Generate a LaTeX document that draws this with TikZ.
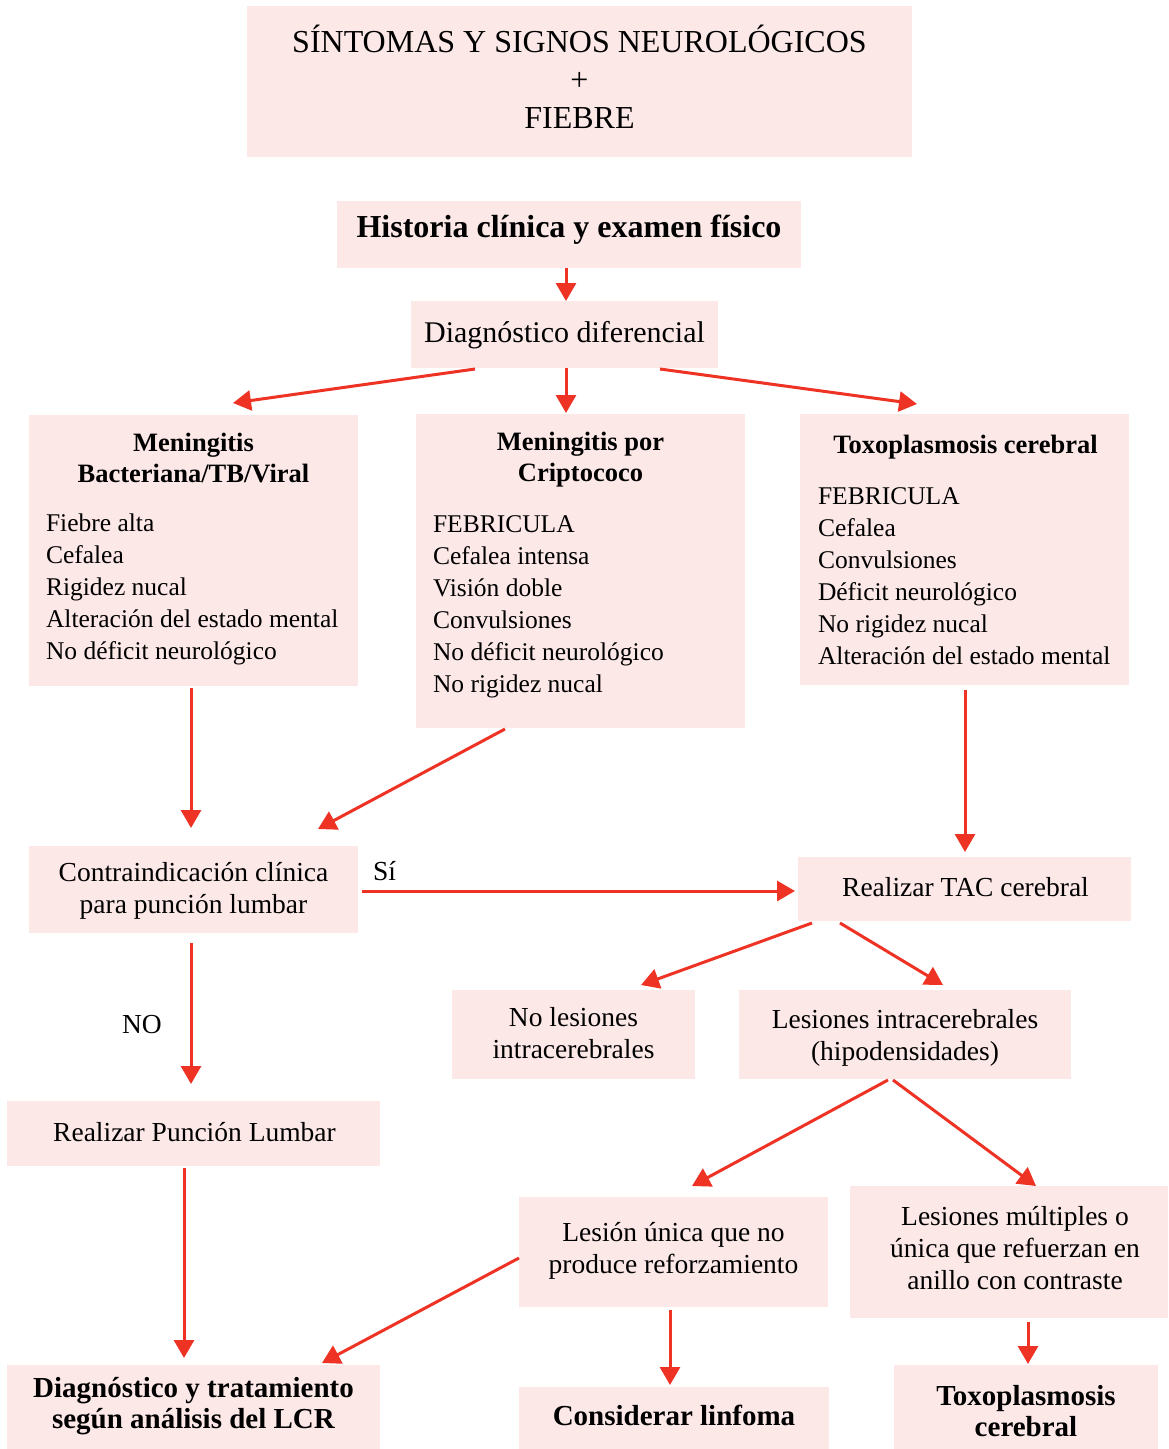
\documentclass[tikz,border=0pt]{standalone}
\usepackage{fontspec}
\setmainfont{Liberation Serif}
\usetikzlibrary{arrows.meta,calc}
\definecolor{boxfill}{RGB}{253,232,232}
\definecolor{flowred}{RGB}{238,51,37}
% stacked lines: first baseline is the node's baseline
\newcommand\linesL[1]{\vtop{\halign{##\hfil\cr#1\crcr}}}
\newcommand\linesC[1]{\vtop{\halign{\hfil##\hfil\cr#1\crcr}}}
\newcommand\fsTop{\fontsize{32}{38}\selectfont}
\newcommand\fsHist{\fontsize{32}{38}\bfseries\selectfont}
\newcommand\fsDiag{\fontsize{30}{36}\selectfont}
\newcommand\fsTitle{\fontsize{26.5}{31.5}\bfseries\selectfont}
\newcommand\fsBody{\fontsize{25.5}{32}\selectfont}
\newcommand\fsStep{\fontsize{27.5}{32}\selectfont}
\newcommand\fsEnd{\fontsize{29}{31.5}\bfseries\selectfont}
\begin{document}
\begin{tikzpicture}[x=1pt,y=-1pt,
  box/.style={fill=boxfill, inner sep=0pt, outer sep=0pt, anchor=center},
  txt/.style={inner sep=0pt, outer sep=0pt, anchor=base},
  lst/.style={inner sep=0pt, outer sep=0pt, anchor=base west, font=\fsBody},
  flow/.style={draw=flowred, line width=3pt, -{Triangle[length=18pt,width=20pt]}}]
\fill[white] (0,0) rectangle (1169,1449);
\useasboundingbox (0,0) rectangle (1169,1449);

% boxes
\node[box, minimum width=665pt, minimum height=151pt] (top) at (579.5,81.5) {};
\node[box, minimum width=464pt, minimum height=67pt] (hist) at (569,234.5) {};
\node[box, minimum width=307pt, minimum height=67pt] (diag) at (564.5,334.5) {};
\node[box, minimum width=329pt, minimum height=271pt] (mb) at (193.5,550.5) {};
\node[box, minimum width=329pt, minimum height=314pt] (mc) at (580.5,571) {};
\node[box, minimum width=329pt, minimum height=271pt] (tx) at (964.5,549.5) {};
\node[box, minimum width=329pt, minimum height=87pt] (ci) at (193.5,889.5) {};
\node[box, minimum width=333pt, minimum height=64pt] (tac) at (964.5,889) {};
\node[box, minimum width=243pt, minimum height=89pt] (nl) at (573.5,1034.5) {};
\node[box, minimum width=332pt, minimum height=89pt] (li) at (905,1034.5) {};
\node[box, minimum width=373pt, minimum height=65pt] (pl) at (193.5,1133.5) {};
\node[box, minimum width=309pt, minimum height=110pt] (lu) at (673.5,1252) {};
\node[box, minimum width=318pt, minimum height=132pt] (lm) at (1009,1252) {};
\node[box, minimum width=373pt, minimum height=84pt] (dt) at (193.5,1407) {};
\node[box, minimum width=310pt, minimum height=62pt] (cl) at (674,1418) {};
\node[box, minimum width=264pt, minimum height=84pt] (tb) at (1026,1407) {};

% texts
\node[txt, font=\fsTop] (topT) at (579.5,52) {\linesC{SÍNTOMAS Y SIGNOS NEUROLÓGICOS\cr +\cr FIEBRE}};
\node[txt, font=\fsHist] (histT) at (569,237) {Historia clínica y examen físico};
\node[txt, font=\fsDiag] (diagT) at (564.5,342) {Diagnóstico diferencial};

\node[txt, font=\fsTitle] (mbT) at (193.5,451) {\linesC{Meningitis\cr Bacteriana/TB/Viral}};
\node[lst] (mbL) at (46,531) {\linesL{Fiebre alta\cr Cefalea\cr Rigidez nucal\cr Alteración del estado mental\cr No déficit neurológico}};

\node[txt, font=\fsTitle] (mcT) at (580.5,450) {\linesC{Meningitis por\cr Criptococo}};
\node[lst] (mcL) at (433,532) {\linesL{FEBRICULA\cr Cefalea intensa\cr Visión doble\cr Convulsiones\cr No déficit neurológico\cr No rigidez nucal}};

\node[txt, font=\fsTitle] (txT) at (965.5,453) {Toxoplasmosis cerebral};
\node[lst] (txL) at (818,504) {\linesL{FEBRICULA\cr Cefalea\cr Convulsiones\cr Déficit neurológico\cr No rigidez nucal\cr Alteración del estado mental}};

\node[txt, font=\fsStep] (ciT) at (193.5,881) {\linesC{Contraindicación clínica\cr para punción lumbar}};
\node[txt, font=\fsStep] (tacT) at (965.5,896) {Realizar TAC cerebral};
\node[txt, font=\fsStep] (nlT) at (573.5,1026) {\linesC{No lesiones\cr intracerebrales}};
\node[txt, font=\fsStep] (liT) at (905,1028) {\linesC{Lesiones intracerebrales\cr (hipodensidades)}};
\node[txt, font=\fsStep] (plT) at (194.5,1141) {Realizar Punción Lumbar};
\node[txt, font=\fsStep] (luT) at (673.5,1241) {\linesC{Lesión única que no\cr produce reforzamiento}};
\node[txt, font=\fsStep] (lmT) at (1015,1225) {\linesC{Lesiones múltiples o\cr única que refuerzan en\cr anillo con contraste}};
\node[txt, font=\fsEnd] (dtT) at (193.5,1397) {\linesC{Diagnóstico y tratamiento\cr según análisis del LCR}};
\node[txt, font=\fsEnd] (clT) at (674,1425) {Considerar linfoma};
\node[txt, font=\fsEnd] (tbT) at (1026,1405) {\linesC{Toxoplasmosis\cr cerebral}};

% branch labels
\node[inner sep=0pt, anchor=base west, font=\fsStep] (si) at (373,880) {Sí};
\node[inner sep=0pt, anchor=base, font=\fsStep] (no) at (142,1033) {NO};

% connectors
\draw[flow] ($(hist.south)+(-3,0)$) -- ($(diag.north)+(1.5,0)$);
\draw[flow] ($(diag.south)+(1.5,0)$) -- ($(mc.north)+(-14.5,-1)$);
\draw[flow] ($(diag.south)+(-89.5,1)$) -- ($(mb.north)+(39.5,-12)$);
\draw[flow] ($(diag.south)+(95.5,1)$) -- ($(tx.north)+(-47.5,-10)$);
\draw[flow] ($(mb.south)+(-2.5,2)$) -- ($(ci.north)+(-2.5,-18)$);
\draw[flow] ($(mc.south)+(-75.5,1)$) -- ($(ci.north)+(124.5,-17)$);
\draw[flow] ($(tx.south)+(0.5,5)$) -- ($(tac.north)+(0.5,-5)$);
\draw[flow] ($(ci.east)+(4,1.5)$) -- ($(tac.west)+(-3,2)$);
\draw[flow] ($(ci.south)+(-2.5,10)$) -- ($(pl.north)+(-2.5,-17)$);
\draw[flow] ($(tac.south)+(-152.5,2)$) -- ($(nl.north)+(67.5,-5)$);
\draw[flow] ($(tac.south)+(-124.5,2)$) -- ($(li.north)+(38,-5)$);
\draw[flow] ($(li.south)+(-17,1)$) -- ($(lu.north)+(18.5,-11)$);
\draw[flow] ($(li.south)+(-12,1)$) -- ($(lm.north)+(27,0)$);
\draw[flow] ($(pl.south)+(-9.5,2)$) -- ($(dt.north)+(-9.5,-7)$);
\draw[flow] ($(lu.west)+(0,6)$) -- ($(dt.north)+(128.5,-2)$);
\draw[flow] ($(lu.south)+(-3.5,3)$) -- ($(cl.north)+(-4,-2)$);
\draw[flow] ($(lm.south)+(19,4)$) -- ($(tb.north)+(2,-1)$);
\end{tikzpicture}
\end{document}
